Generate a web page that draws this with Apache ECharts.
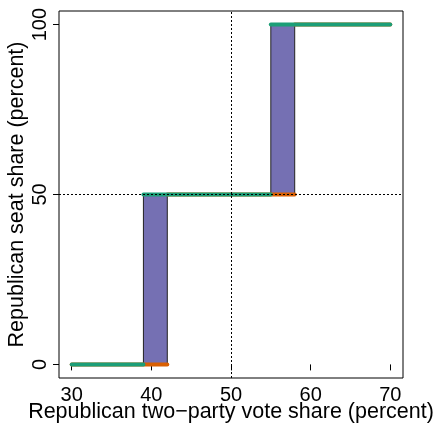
<!DOCTYPE html>
<html>
<head>
<meta charset="utf-8">
<script src="https://cdn.jsdelivr.net/npm/echarts@6/dist/echarts.min.js"></script>
<style>html,body{margin:0;padding:0;background:#fff}#c{width:436px;height:427px}</style>
</head>
<body>
<div id="c"></div>
<script>
// ---- data ----
const xTicks = [30, 40, 50, 60, 70];
const yTicks = [0, 50, 100];
const stepLevels = [0, 50, 100];
const greenStart = [30, 39, 55];
const greenEnd = [39, 55, 70];
const orangeStart = [30, 42, 58];
const orangeEnd = [42, 58, 70];
const boxX0 = [39, 55];
const boxX1 = [42, 58];
const boxY0 = [0, 50];
const boxY1 = [50, 100];
const refX = 50;
const refY = 50;
const xTitle = 'Republican two\u2212party vote share (percent)';
const yTitle = 'Republican seat share (percent)';

const FONT = 'Liberation Sans, Arial, sans-serif';
const chart = echarts.init(document.getElementById('c'), null, {renderer: 'canvas'});

function segData(s, e, lv) { return s.map((v, i) => [v, e[i], lv[i]]); }
function segRender(color) {
  return function (params, api) {
    const p0 = api.coord([api.value(0), api.value(2)]);
    const p1 = api.coord([api.value(1), api.value(2)]);
    return {type: 'line', shape: {x1: p0[0], y1: p0[1], x2: p1[0], y2: p1[1]},
      style: {stroke: color, lineWidth: 4, lineCap: 'round'}};
  };
}

chart.setOption({
  animation: false,
  backgroundColor: '#fff',
  grid: {left: 59, right: 33, top: 11, bottom: 49, containLabel: false, outerBoundsMode: 'none',
    show: true, borderColor: '#000', borderWidth: 1, backgroundColor: 'transparent'},
  xAxis: {
    type: 'value', min: 28.4, max: 71.6,
    name: xTitle, nameLocation: 'middle', nameGap: 23, nameMoveOverlap: false,
    nameTextStyle: {fontFamily: FONT, fontSize: 21.5, color: '#000'},
    axisLine: {show: false},
    splitLine: {show: false},
    axisTick: {show: true, inside: false, length: 6, lineStyle: {color: '#000'}, customValues: xTicks},
    axisLabel: {fontFamily: FONT, fontSize: 20, color: '#000', margin: 7, customValues: xTicks}
  },
  yAxis: {
    type: 'value', min: -4, max: 104,
    name: yTitle, nameLocation: 'middle', nameGap: 31, nameMoveOverlap: false,
    nameTextStyle: {fontFamily: FONT, fontSize: 21.5, color: '#000'},
    axisLine: {show: false},
    splitLine: {show: false},
    axisTick: {show: true, inside: false, length: 6, lineStyle: {color: '#000'}, customValues: yTicks},
    axisLabel: {fontFamily: FONT, fontSize: 20, color: '#000', margin: 9, rotate: 90, customValues: yTicks}
  },
  series: [
    {
      type: 'custom', z: 2,
      data: boxX0.map((v, i) => [v, boxX1[i], boxY0[i], boxY1[i]]),
      renderItem: function (params, api) {
        const a = api.coord([api.value(0), api.value(3)]);
        const b = api.coord([api.value(1), api.value(2)]);
        return {type: 'rect', shape: {x: a[0], y: a[1], width: b[0] - a[0], height: b[1] - a[1]},
          style: {fill: '#7570B3', stroke: '#222', lineWidth: 1}};
      },
      markLine: {
        silent: true, symbol: 'none', label: {show: false},
        lineStyle: {color: '#000', width: 1, type: [2, 2]},
        data: [{xAxis: refX}, {yAxis: refY}]
      }
    },
    {type: 'custom', z: 3, data: segData(orangeStart, orangeEnd, stepLevels), renderItem: segRender('#D95F02')},
    {type: 'custom', z: 4, data: segData(greenStart, greenEnd, stepLevels), renderItem: segRender('#1B9E77')}
  ]
});
</script>
</body>
</html>
